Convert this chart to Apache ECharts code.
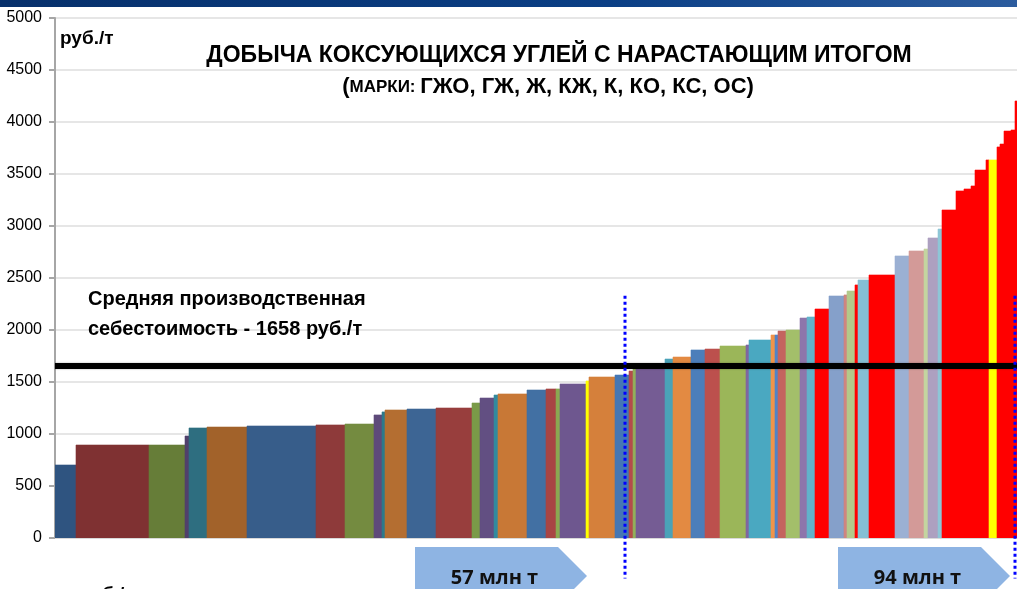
<!doctype html>
<html lang="ru">
<head>
	<meta charset="UTF-8">
	<title>Добыча коксующихся углей</title>
	<style>
		html, body { margin: 0; padding: 0; background: #fff; }
		#chart { width: 1017px; height: 589px; }
	</style>
</head>
<body>
<div id="chart"></div>
<script src="https://cdn.jsdelivr.net/npm/echarts@6/dist/echarts.min.js"></script>
<script>
	// объёмы добычи по шахтам, млн т (ширина столбца)
	var volumes = [2.1, 7.3, 3.6, 0.4, 1.8, 4.0, 6.9, 2.9, 2.9, 0.8,
		0.3, 2.2, 2.9, 3.6, 0.8, 1.4, 0.4, 2.9, 1.9, 1.0,
		0.4, 2.6, 0.3, 2.6, 1.4, 0.4, 0.3, 2.9, 0.8, 1.8,
		1.4, 1.5, 2.6, 0.3, 2.2, 0.4, 0.3, 0.8, 1.4, 0.7,
		0.8, 1.4, 1.5, 0.3, 0.8, 0.3, 1.1, 2.6, 1.4, 1.5,
		0.4, 1.0, 0.4, 1.4, 0.8, 0.7, 0.4, 1.1, 0.3, 0.8,
		0.3, 0.4, 0.7, 0.4, 0.5];
	// себестоимость, руб./т (высота столбца)
	var costs = [702, 894, 894, 981, 1058, 1067, 1077, 1087, 1096, 1183,
		1212, 1231, 1240, 1250, 1298, 1346, 1375, 1385, 1423, 1433,
		1433, 1481, 1510, 1548, 1567, 1606, 1635, 1652, 1721, 1740,
		1808, 1817, 1846, 1856, 1904, 1952, 1952, 1990, 2000, 2115,
		2125, 2202, 2327, 2337, 2375, 2433, 2481, 2529, 2712, 2760,
		2779, 2885, 2971, 3154, 3337, 3356, 3385, 3538, 3635, 3635,
		3760, 3788, 3913, 3923, 4202];
	var yTicks = [0, 500, 1000, 1500, 2000, 2500, 3000, 3500, 4000, 4500, 5000];
	var avgCost = 1658;
	var marks = [57, 96.0]; // млн т нарастающим итогом
	var markLabels = ['57 млн т', '94 млн т'];

	var barColors = ['#2F5480', '#7F3132', '#667D38', '#51406B', '#2E6E80', '#A2622A', '#375D8A', '#8E3A3A', '#748B40', '#5E4A7A',
		'#2C7A8C', '#B46E31', '#3D6594', '#983E3D', '#7A9A48', '#624F82', '#328A9E', '#C87836', '#4270A3', '#A84544',
		'#8AA952', '#6E578F', '#FFFF00', '#D5803B', '#4577B4', '#B44C4B', '#92B05A', '#755C94', '#4AA2B8', '#E38A42',
		'#4C7EBA', '#BC504D', '#9BB659', '#8066A0', '#4AA8C1', '#F0944A', '#5083C8', '#C4645F', '#A3BF6A', '#8E76AB',
		'#62B3CB', '#FF0000', '#85A0CA', '#CF8580', '#B3C98A', '#FF0000', '#85BFD4', '#FF0000', '#9BB0D3', '#D39A98',
		'#C4D4A0', '#ADA0C0', '#8EC6D6', '#FF0000', '#FF0000', '#FF0000', '#FF0000', '#FF0000', '#FF0000', '#FFFF00',
		'#FF0000', '#FF0000', '#FF0000', '#FF0000', '#FF0000'];

	// нарастающий итог
	var bars = [];
	var acc = 0;
	for (var i = 0; i < volumes.length; i++) {
		bars.push([acc, acc + volumes[i], costs[i]]);
		acc += volumes[i];
	}

	var font = '"Liberation Sans", Arial, sans-serif';
	var myChart = echarts.init(document.getElementById('chart'));

	var option = {
		animation: false,
		grid: { left: 55, right: 0, top: 18, bottom: 51 },
		xAxis: {
			type: 'value',
			min: 0,
			max: 96.2,
			axisLine: { show: true, lineStyle: { color: '#D9D9D9', width: 1 } },
			axisTick: { show: false },
			axisLabel: { show: false },
			splitLine: { show: false }
		},
		yAxis: {
			type: 'value',
			min: yTicks[0],
			max: yTicks[yTicks.length - 1],
			interval: 500,
			axisLine: { show: true, lineStyle: { color: '#A6A6A6', width: 2 } },
			axisTick: { show: true, length: 6, lineStyle: { color: '#A6A6A6', width: 2 } },
			axisLabel: { color: '#000', fontSize: 16, fontFamily: font, margin: 13,
				formatter: function (v) { return String(v); } },
			splitLine: { show: true, lineStyle: { color: '#E6E6E6', width: 2 } }
		},
		series: [{
			type: 'custom',
			clip: true,
			encode: { x: [0, 1], y: 2 },
			data: bars,
			renderItem: function (params, api) {
				var p0 = api.coord([api.value(0), api.value(2)]);
				var p1 = api.coord([api.value(1), 0]);
				return {
					type: 'rect',
					shape: { x: p0[0], y: p0[1], width: p1[0] - p0[0], height: p1[1] - p0[1] },
					style: { fill: barColors[params.dataIndex], stroke: barColors[params.dataIndex], lineWidth: 0.6 }
				};
			},
			markLine: {
				silent: true,
				symbol: 'none',
				label: { show: false },
				lineStyle: { color: '#000', width: 6, type: 'solid', shadowColor: 'rgba(0,0,0,0.35)', shadowBlur: 2 },
				data: [{ yAxis: avgCost }]
			},
			z: 2
		}]
	};
	myChart.setOption(option);

	// подписи и стрелки
	var g = [
		{ type: 'rect', shape: { x: 0, y: 0, width: 1017, height: 7 },
			style: { fill: { type: 'linear', x: 0, y: 0, x2: 1, y2: 0, colorStops: [
				{ offset: 0, color: '#07306B' }, { offset: 0.6, color: '#0B3F85' }, { offset: 1, color: '#2C5C9E' }] } } },
		{ type: 'text', left: 60, top: 29,
			style: { text: 'руб./т', font: 'bold 19px ' + font, fill: '#000' } },
		{ type: 'text', x: 559, y: 56,
			style: { text: 'ДОБЫЧА КОКСУЮЩИХСЯ УГЛЕЙ С НАРАСТАЮЩИМ ИТОГОМ', font: 'bold 23px ' + font,
				fill: '#000', align: 'center', verticalAlign: 'middle' } },
		{ type: 'text', x: 548, y: 87,
			style: { text: '{b|(}{s|МАРКИ: }{b|ГЖО, ГЖ, Ж, КЖ, К, КО, КС, ОС)}', fill: '#000', align: 'center', verticalAlign: 'middle',
				rich: { s: { font: 'bold 17px ' + font }, b: { font: 'bold 22px ' + font } } } },
		{ type: 'text', left: 88, top: 284,
			style: { text: 'Средняя производственная\nсебестоимость - 1658 руб./т', font: 'bold 20px ' + font,
				lineHeight: 30, fill: '#000' } },
		{ type: 'text', left: 80, top: 585,
			style: { text: 'руб./т', font: 'bold 19px ' + font, fill: '#000' } }
	];

	var arrowLeft = [415, 838];
	var arrowTip = [587, 1010];
	var lineTop = myChart.convertToPixel({ yAxisIndex: 0 }, 2330);
	var lineBottom = myChart.convertToPixel({ yAxisIndex: 0 }, -390);
	for (var k = 0; k < marks.length; k++) {
		var px = myChart.convertToPixel({ xAxisIndex: 0 }, marks[k]);
		g.push({ type: 'line', shape: { x1: px, y1: lineTop, x2: px, y2: lineBottom }, z: 10,
			style: { stroke: '#0000FF', lineWidth: 3, lineDash: [3, 3] } });
		var ax = arrowLeft[k];
		var tip = arrowTip[k];
		g.push({ type: 'polygon', z: 5,
			shape: { points: [[ax, 547], [tip - 29, 547], [tip, 576], [tip - 29, 605], [ax, 605]] },
			style: { fill: '#8EB4E3' } });
		g.push({ type: 'text', x: (ax + tip - 29) / 2 + 8, y: 578, z: 6,
			style: { text: markLabels[k], font: 'bold 20px "Open Sans", "Liberation Sans", sans-serif', fill: '#111',
				align: 'center', verticalAlign: 'middle' } });
	}
	myChart.setOption({ graphic: g });
</script>
</body>
</html>
